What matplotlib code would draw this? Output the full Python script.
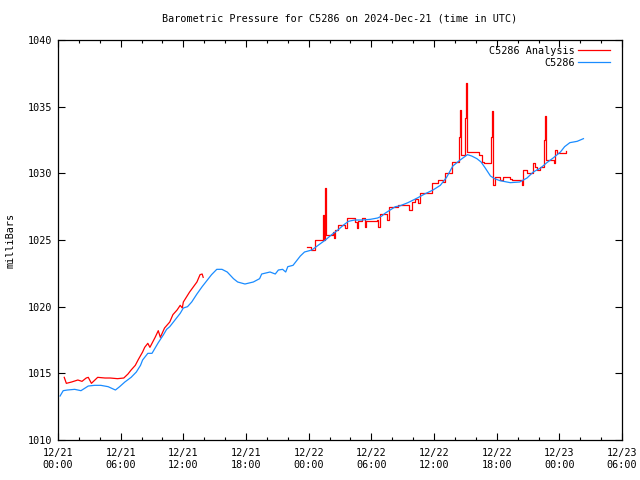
import matplotlib
matplotlib.use('Agg')
import matplotlib.pyplot as plt
import matplotlib.dates as mdates
import numpy as np
import pandas as pd

# hours after 2024-12-21 00:00 UTC, pressure in mb
obs_hours = [0.2, 0.5, 0.9, 1.6, 2.2, 2.9, 3.5, 4.1, 4.8, 5.5, 5.9, 6.4, 7.0, 7.5, 7.9, 8.1, 8.6, 9.0,
             9.6, 10.1, 10.4, 10.7, 11.2, 11.7, 12.0, 12.4, 12.8, 13.3, 13.8, 14.3, 14.7, 15.2, 15.7,
             16.2, 16.8, 17.2, 17.9, 18.7, 19.3, 19.5, 20.3, 20.8, 21.1, 21.5, 21.8, 22.0, 22.5, 23.2,
             23.6, 24.3, 24.9, 25.6, 26.2, 26.8, 27.3, 27.8, 28.4, 29.1, 29.9, 30.6, 31.0, 31.3, 31.8,
             32.3, 32.7, 33.5, 34.4, 35.1, 35.9, 36.6, 37.2, 37.8, 38.5, 39.2, 39.6, 40.1, 40.5, 40.9,
             41.4, 41.8, 42.3, 43.3, 44.2, 44.9, 45.5, 46.2, 46.8, 47.4, 48.1, 48.5, 49.0, 49.7, 50.3]
obs_mb = [1013.3, 1013.7, 1013.75, 1013.8, 1013.7, 1014.05, 1014.1, 1014.1, 1014.0, 1013.75, 1014.0,
          1014.35, 1014.7, 1015.1, 1015.6, 1016.0, 1016.5, 1016.5, 1017.3, 1017.9, 1018.3, 1018.5,
          1019.0, 1019.5, 1019.9, 1020.0, 1020.35, 1020.95, 1021.5, 1022.0, 1022.4, 1022.8, 1022.8,
          1022.6, 1022.1, 1021.85, 1021.7, 1021.85, 1022.1, 1022.45, 1022.6, 1022.45, 1022.75, 1022.8,
          1022.6, 1023.0, 1023.1, 1023.8, 1024.1, 1024.25, 1024.6, 1025.0, 1025.4, 1025.75, 1026.1,
          1026.4, 1026.5, 1026.5, 1026.55, 1026.65, 1026.8, 1027.0, 1027.25, 1027.5, 1027.55, 1027.8,
          1028.15, 1028.45, 1028.75, 1029.1, 1029.7, 1030.55, 1031.0, 1031.4, 1031.3, 1031.1, 1030.85,
          1030.4, 1029.8, 1029.6, 1029.45, 1029.3, 1029.35, 1029.65, 1030.1, 1030.4, 1030.8, 1031.15,
          1031.6, 1032.0, 1032.3, 1032.4, 1032.6]

ana1_hours = [0.6, 0.8, 1.3, 1.9, 2.3, 2.7, 2.9, 3.2, 3.8, 4.5, 5.0, 5.7, 6.3, 6.7, 7.0, 7.4, 7.7, 8.1,
              8.3, 8.6, 8.8, 9.3, 9.6, 9.8, 10.2, 10.7, 11.0, 11.4, 11.7, 11.9, 12.0, 12.6, 13.3, 13.6,
              13.8, 13.9]
ana1_mb = [1014.7, 1014.25, 1014.35, 1014.5, 1014.4, 1014.65, 1014.7, 1014.25, 1014.7, 1014.65, 1014.65,
           1014.6, 1014.65, 1014.95, 1015.25, 1015.6, 1016.05, 1016.6, 1016.95, 1017.25, 1016.95,
           1017.7, 1018.2, 1017.7, 1018.4, 1018.85, 1019.4, 1019.75, 1020.1, 1019.9, 1020.35, 1021.1,
           1021.85, 1022.4, 1022.45, 1022.2]

ana2_hours = [23.84, 24.22, 24.61, 25.37, 25.47, 25.56, 25.66, 26.33, 26.43, 26.52, 26.81, 27.48, 27.67,
              28.44, 28.63, 28.72, 29.11, 29.39, 29.49, 30.54, 30.64, 30.83, 31.5, 31.69, 32.55, 33.6,
              33.9, 34.18, 34.47, 34.66, 35.8, 36.38, 36.86, 37.05, 37.73, 38.4, 38.49, 38.59, 38.97,
              39.07, 39.16, 40.31, 40.6, 40.79, 41.46, 41.55, 41.65, 41.84, 42.32, 42.61, 43.28, 43.47,
              44.43, 44.52, 44.91, 45.48, 45.67, 45.86, 46.15, 46.53, 46.63, 46.72, 47.49, 47.59, 47.78,
              48.64]
ana2_mb = [1024.5, 1024.25, 1025.0, 1026.9, 1025.0, 1028.9, 1025.4, 1025.6, 1025.15, 1025.75, 1026.1,
           1025.9, 1026.65, 1026.35, 1025.9, 1026.4, 1026.65, 1026.0, 1026.4, 1026.5, 1026.0, 1026.95,
           1026.5, 1027.5, 1027.6, 1027.25, 1027.85, 1028.1, 1027.8, 1028.5, 1029.3, 1029.5, 1029.35,
           1030.0, 1030.85, 1032.7, 1034.75, 1031.4, 1034.15, 1036.8, 1031.6, 1031.4, 1030.85, 1030.8,
           1032.7, 1034.7, 1029.1, 1029.7, 1029.5, 1029.7, 1029.6, 1029.5, 1029.1, 1030.25, 1030.0,
           1030.8, 1030.5, 1030.25, 1030.5, 1032.5, 1034.3, 1031.0, 1030.8, 1031.75, 1031.5, 1031.65]

start = pd.Timestamp('2024-12-21 00:00')
def to_time(h):
    return start + pd.to_timedelta(np.array(h), unit='h')

plt.rcParams['font.family'] = 'DejaVu Sans Mono'
plt.rcParams['font.size'] = 7.3

fig = plt.figure(figsize=(6.4, 4.8), dpi=100)
ax = fig.add_axes([0.0906, 0.0833, 0.8814, 0.8334])

ax.plot(to_time(ana1_hours), ana1_mb, color='#ff0000', lw=0.9, label='C5286 Analysis')
ax.plot(to_time(ana2_hours), ana2_mb, color='#ff0000', lw=0.9, drawstyle='steps-post')
ax.plot(to_time(obs_hours), obs_mb, color='#1a8cff', lw=0.9, label='C5286')

ax.set_xlim(start, start + pd.Timedelta(hours=54))
ax.set_ylim(1010, 1040)
ax.set_yticks(np.arange(1010, 1041, 5))
ax.xaxis.set_major_locator(mdates.HourLocator(byhour=[0, 6, 12, 18]))
ax.xaxis.set_minor_locator(mdates.HourLocator(byhour=range(0, 24, 2)))
ax.xaxis.set_major_formatter(mdates.DateFormatter('%m/%d\n%H:%M'))
ax.tick_params(which='major', direction='in', length=5, width=0.8, top=True, right=True)
ax.tick_params(axis='x', which='major', pad=6)
ax.tick_params(axis='y', which='major', pad=4)
ax.tick_params(which='minor', direction='in', length=2.5, width=0.8, top=True, right=False)
for s in ax.spines.values():
    s.set_linewidth(0.9)

ax.set_ylabel('milliBars', labelpad=9)
ax.set_title('Barometric Pressure for C5286 on 2024-Dec-21 (time in UTC)', fontsize=7.3, pad=13)
ax.legend(loc='upper right', bbox_to_anchor=(0.983, 0.99), frameon=False, markerfirst=False,
          handlelength=3.2, borderaxespad=0, labelspacing=0.2, handletextpad=0.3, borderpad=0.2)

fig.savefig('out.png', dpi=100)
